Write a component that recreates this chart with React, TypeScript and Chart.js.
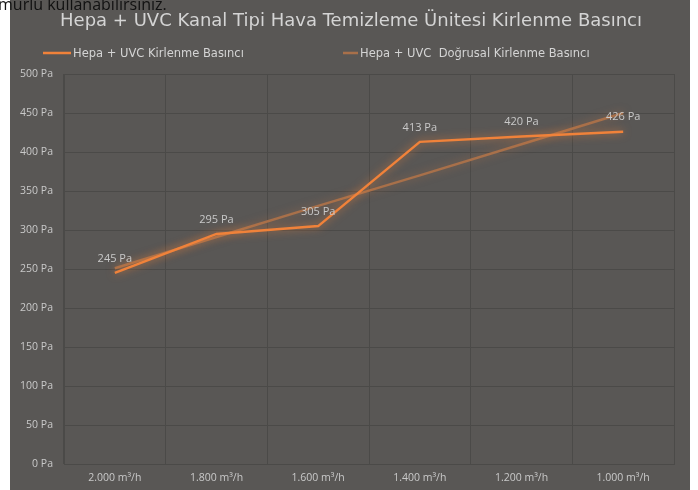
import React, { useEffect, useRef } from "react";
import { Chart, registerables } from "chart.js";

Chart.register(...registerables);

const categories = ["2.000 m³/h", "1.800 m³/h", "1.600 m³/h", "1.400 m³/h", "1.200 m³/h", "1.000 m³/h"];
const pressure = [245, 295, 305, 413, 420, 426];
const trend = [251, 291, 331, 370, 410, 450];
const yTicks = [0, 50, 100, 150, 200, 250, 300, 350, 400, 450, 500];
const titleText = "Hepa + UVC Kanal Tipi Hava Temizleme Ünitesi Kirlenme Basıncı";
const seriesNames = ["Hepa + UVC Kirlenme Basıncı", "Hepa + UVC  Doğrusal Kirlenme Basıncı"];

const BG = "#595755";
const ORANGE = "#f0823a";
const TREND = "#a8704a";
const GRID = "#4b4a48";
const TXT = "#c9c9c9";

const glowPlugin = {
  id: "glow",
  beforeDatasetDraw(chart: any, args: any) {
    const ctx = chart.ctx;
    ctx.save();
    ctx.shadowColor = args.index === 0 ? "rgba(240,130,58,0.75)" : "rgba(200,120,70,0.5)";
    ctx.shadowBlur = 8;
  },
  afterDatasetDraw(chart: any) {
    chart.ctx.restore();
  },
};

const labelPlugin = {
  id: "valueLabels",
  afterDatasetsDraw(chart: any) {
    const ctx = chart.ctx;
    const meta = chart.getDatasetMeta(0);
    ctx.save();
    ctx.font = "11px 'Open Sans', sans-serif";
    ctx.fillStyle = TXT;
    ctx.textAlign = "center";
    ctx.textBaseline = "bottom";
    meta.data.forEach((pt: any, i: number) => {
      ctx.fillText(pressure[i] + " Pa", pt.x, pt.y - 9);
    });
    ctx.restore();
  },
};

const headerPlugin = {
  id: "header",
  afterDraw(chart: any) {
    const ctx = chart.ctx;
    const w = chart.width;
    ctx.save();
    ctx.font = "18px 'DejaVu Sans', sans-serif";
    ctx.fillStyle = "#d4d4d4";
    ctx.textAlign = "center";
    ctx.textBaseline = "middle";
    ctx.fillText(titleText, w / 2 + 1, 21);
    ctx.font = "11.5px 'DejaVu Sans', sans-serif";
    ctx.textAlign = "left";
    const ly = 53;
    const items = [
      { x: 33, color: ORANGE, len: 28 },
      { x: 333, color: TREND, len: 15 },
    ];
    items.forEach((it, i) => {
      ctx.strokeStyle = it.color;
      ctx.lineWidth = 2.5;
      ctx.beginPath();
      ctx.moveTo(it.x, ly);
      ctx.lineTo(it.x + it.len, ly);
      ctx.stroke();
      ctx.fillStyle = "#d4d4d4";
      ctx.fillText(seriesNames[i], it.x + it.len + 2, ly + 1);
    });
    ctx.restore();
  },
};

export default function App() {
  const ref = useRef<HTMLCanvasElement>(null);
  useEffect(() => {
    if (!ref.current) return;
    const chart = new Chart(ref.current, {
      type: "line",
      data: {
        labels: categories,
        datasets: [
          {
            label: seriesNames[0],
            data: pressure,
            borderColor: ORANGE,
            borderWidth: 2.5,
            pointRadius: 0,
            tension: 0,
          },
          {
            label: seriesNames[1],
            data: trend,
            borderColor: TREND,
            borderWidth: 2.5,
            pointRadius: 0,
            tension: 0,
          },
        ],
      },
      plugins: [glowPlugin, labelPlugin, headerPlugin],
      options: {
        animation: false,
        responsive: false,
        devicePixelRatio: 1,
        layout: { padding: { top: 74, right: 16, left: 0, bottom: 0 } },
        plugins: {
          legend: { display: false },
          title: { display: false },
          tooltip: { enabled: false },
        },
        scales: {
          x: {
            offset: true,
            grid: { offset: true, color: GRID, lineWidth: 1, drawTicks: false },
            border: { color: GRID },
            ticks: {
              color: TXT,
              font: { family: "'Open Sans', sans-serif", size: 10.5 },
              padding: 8,
              maxRotation: 0,
            },
            afterFit: (s: any) => {
              s.height = 26;
            },
          },
          y: {
            min: 0,
            max: 500,
            afterBuildTicks: (s: any) => {
              s.ticks = yTicks.map((v) => ({ value: v }));
            },
            grid: { color: GRID, lineWidth: 1, drawTicks: false },
            border: { color: GRID },
            ticks: {
              color: TXT,
              font: { family: "'Open Sans', sans-serif", size: 10.5 },
              padding: 11,
              callback: (v: any) => v + " Pa",
            },
            afterFit: (s: any) => {
              s.width = 54;
            },
          },
        },
      },
    });
    return () => chart.destroy();
  }, []);

  return (
    <div style={{ position: "fixed", left: 0, top: 0, width: 698, height: 490, background: "#fff", overflow: "hidden" }}>
      <div style={{ position: "absolute", left: 10, top: 0, width: 680, height: 490, background: BG }}>
        <canvas ref={ref} width={680} height={490} style={{ display: "block" }} />
      </div>
      <div
        style={{
          position: "absolute",
          left: -2,
          top: -7,
          fontFamily: "'Open Sans', sans-serif",
          fontSize: 16,
          color: "#111",
          whiteSpace: "nowrap",
          lineHeight: "22px",
        }}
      >
        murlu kullanabilirsiniz.
      </div>
    </div>
  );
}
